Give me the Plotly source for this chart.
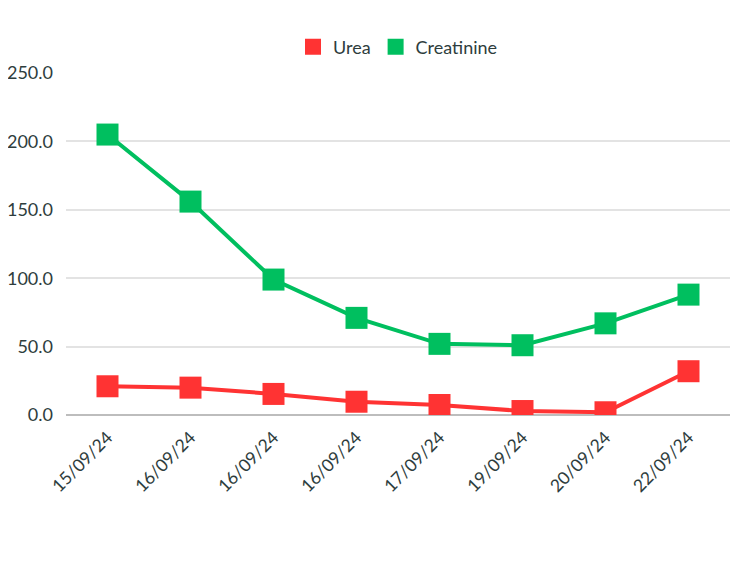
import plotly.graph_objects as go

dates = ["15/09/24", "16/09/24", "16/09/24", "16/09/24", "17/09/24", "19/09/24", "20/09/24", "22/09/24"]
urea = [21, 20, 15.4, 9.7, 7.3, 2.9, 2, 32]
creatinine = [205, 156, 99, 71, 52, 51, 67, 88]
y_ticks = [0, 50, 100, 150, 200, 250]

idx = list(range(len(dates)))
RED = "#FF3333"
GREEN = "#00BF5F"
TXT = "#2E3D3D"
FONT = "Lato, Inter, sans-serif"

fig = go.Figure()
for name, vals, col in [("Urea", urea, RED), ("Creatinine", creatinine, GREEN)]:
    fig.add_trace(go.Scatter(x=idx, y=vals, name=name, mode="lines+markers",
                             line=dict(color=col, width=4),
                             marker=dict(symbol="square", size=22, color=col),
                             showlegend=False))
for name, col in [("Urea", RED), ("Creatinine", GREEN)]:
    fig.add_trace(go.Scatter(x=[None], y=[None], name=name, mode="markers",
                             marker=dict(symbol="square", size=22, color=col)))

fig.update_layout(
    width=750, height=563,
    margin=dict(l=58, r=28, t=65, b=156),
    plot_bgcolor="white", paper_bgcolor="white",
    font=dict(family=FONT, size=16, color=TXT),
    legend=dict(orientation="h", x=0.5, xanchor="center", y=1.076, yanchor="middle",
                font=dict(size=18, color=TXT), itemsizing="trace",
                traceorder="normal"),
    xaxis=dict(tickmode="array", tickvals=idx, ticktext=dates, range=[-0.5, 7.5],
               tickangle=-45, showgrid=False, zeroline=False, showline=False,
               tickfont=dict(size=17.5, color=TXT), ticks="", ticklabelstandoff=8,
               automargin=False),
    yaxis=dict(range=[0, 250], tickvals=y_ticks, tickformat=".1f",
               showgrid=True, gridcolor="#E3E3E3", gridwidth=1.5,
               zeroline=True, zerolinecolor="#BDBDBD", zerolinewidth=2,
               tickfont=dict(size=18, color=TXT), ticks="", ticklabelstandoff=12,
               automargin=False),
)
fig.write_html("out.html")
